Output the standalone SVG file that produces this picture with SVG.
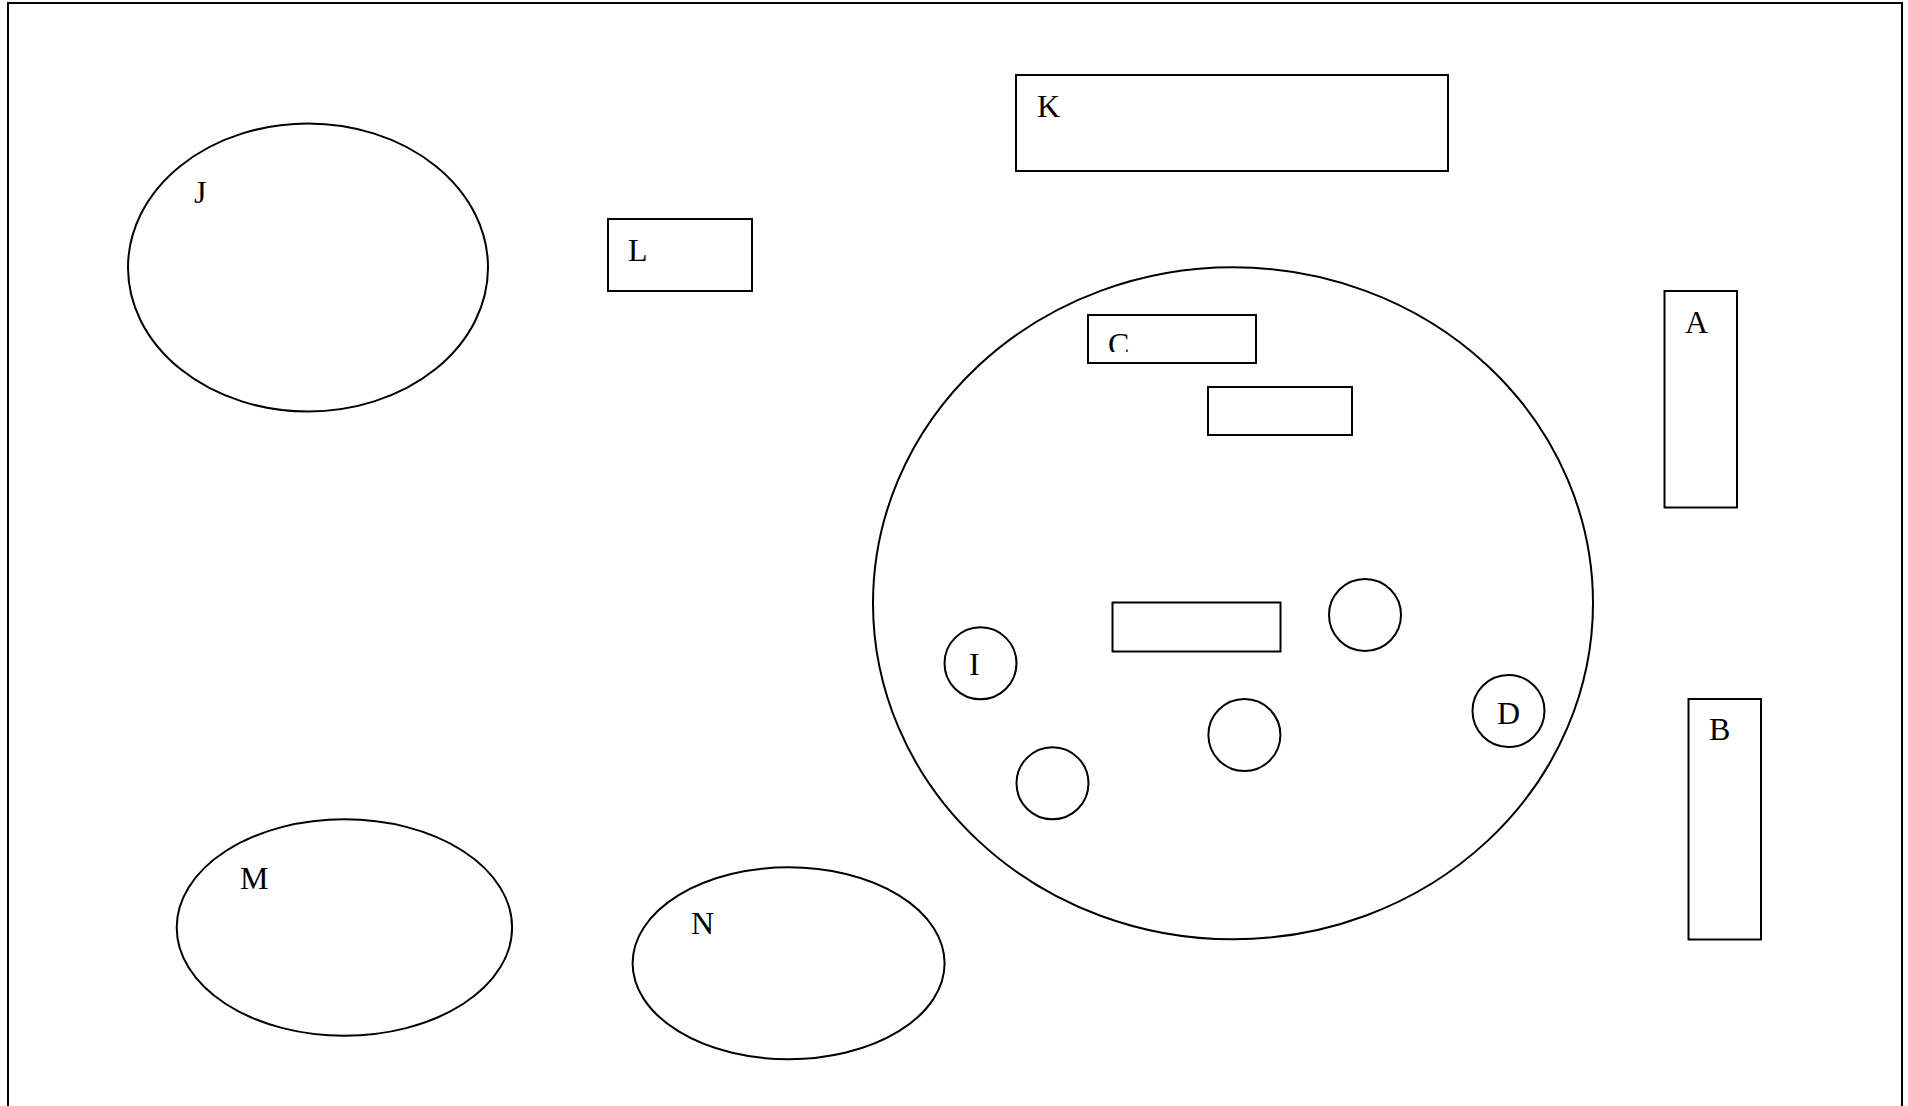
<svg xmlns="http://www.w3.org/2000/svg" width="1908" height="1106" viewBox="0 0 1908 1106">
<style>
.s{fill:none;stroke:#000;stroke-width:2}
.t{font-family:"Liberation Serif","Times New Roman",serif;font-size:32px;fill:#000}
</style>
<defs>
<clipPath id="clipC"><rect x="1089" y="316" width="166" height="36"/></clipPath>
</defs>
<rect width="1908" height="1106" fill="#fff"/>
<rect class="s" x="8" y="3" width="1894" height="1120"/>
<g id="J"><ellipse class="s" cx="308" cy="267.5" rx="180" ry="144"/><text class="t" x="194" y="203">J</text></g>
<g id="L"><rect class="s" x="608" y="219" width="144" height="72"/><text class="t" x="628" y="261">L</text></g>
<g id="K"><rect class="s" x="1016" y="75" width="432" height="96"/><text class="t" x="1037" y="117">K</text></g>
<g id="big"><ellipse class="s" cx="1233" cy="603.3" rx="360" ry="336"/></g>
<g id="C"><rect class="s" x="1088" y="315" width="168" height="48"/><text class="t" x="1108" y="355" clip-path="url(#clipC)">C</text></g>
<g id="R2"><rect class="s" x="1208" y="387" width="144" height="48"/></g>
<g id="R3"><rect class="s" x="1112.5" y="602.5" width="168" height="49"/></g>
<g id="E1"><circle class="s" cx="1365" cy="615" r="36"/></g>
<g id="I"><circle class="s" cx="980.5" cy="663.3" r="36"/><text class="t" x="969" y="675">I</text></g>
<g id="D"><circle class="s" cx="1508.5" cy="711" r="36"/><text class="t" x="1497" y="724">D</text></g>
<g id="E2"><circle class="s" cx="1244.4" cy="735" r="36"/></g>
<g id="E3"><circle class="s" cx="1052.5" cy="783.3" r="36"/></g>
<g id="A"><rect class="s" x="1664.5" y="291" width="72.5" height="216.5"/><text class="t" x="1685" y="332.5">A</text></g>
<g id="B"><rect class="s" x="1688.5" y="699" width="72.5" height="240.5"/><text class="t" x="1709" y="740">B</text></g>
<g id="M"><ellipse class="s" cx="344.4" cy="927.5" rx="167.7" ry="108.2"/><text class="t" x="240" y="889">M</text></g>
<g id="N"><ellipse class="s" cx="788.6" cy="963.3" rx="156" ry="96"/><text class="t" x="691" y="934">N</text></g>
<g id="connectors"></g>
</svg>
